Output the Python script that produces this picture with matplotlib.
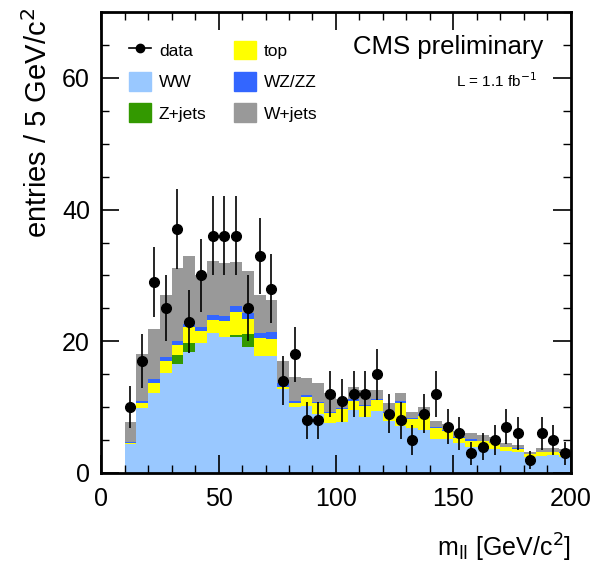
import numpy as np
import matplotlib
matplotlib.use('Agg')
import matplotlib.pyplot as plt
from matplotlib.patches import Patch
from matplotlib.lines import Line2D
from matplotlib.ticker import MultipleLocator

plt.rcParams['font.family'] = ['Liberation Sans', 'DejaVu Sans']

# bins of 5 GeV from 10 to 200
edges = np.arange(10, 201, 5)

# observed events per bin
data = [10, 17, 29, 25, 37, 23, 30, 36, 36, 36, 25, 33, 28, 14, 18, 8, 8, 12, 11, 12,
        12, 15, 9, 8, 5, 9, 12, 7, 6, 3, 4, 5, 7, 6, 2, 6, 5, 3]

# expected contributions per bin (stack order bottom -> top)
ww = [4.4, 9.8, 12.1, 15.2, 16.6, 18.3, 19.7, 21.2, 20.6, 20.6, 19.1, 17.8, 17.8, 12.8,
      10.0, 10.1, 9.0, 7.6, 7.8, 9.5, 8.5, 9.4, 7.9, 7.1, 6.9, 6.5, 5.1, 5.1, 4.5, 4.0,
      4.0, 3.7, 3.4, 3.2, 2.4, 2.6, 2.7, 2.5]
zjets = [0, 0, 0, 0, 1.3, 1.4, 0, 0, 0, 0.3, 2.0, 0, 0, 0, 0, 0, 0, 0, 0, 0,
         0, 0, 0, 0, 0, 0, 0, 0, 0, 0, 0, 0, 0, 0, 0, 0, 0, 0]
top = [0.1, 0.8, 1.6, 1.8, 1.5, 2.4, 1.8, 2.1, 2.5, 3.6, 2.3, 2.7, 2.5, 0.3, 0.6, 1.5,
       1.6, 1.5, 1.9, 1.5, 1.6, 1.7, 1.2, 3.6, 1.3, 2.2, 1.7, 1.3, 0.8, 0.9, 0.8, 0.8,
       0.5, 0.5, 0.5, 0.6, 0.5, 0.6]
wzzz = [0.2, 0.4, 0.5, 0.6, 0.6, 0.6, 0.7, 0.7, 0.8, 0.9, 0.9, 0.7, 1.1, 0.5, 0.3, 0.3,
        0.2, 0.2, 0.2, 0.2, 0.2, 0.2, 0.2, 0.2, 0.2, 0.2, 0.2, 0.2, 0.2, 0.2, 0.1, 0.1,
        0.1, 0.1, 0.0, 0.05, 0.05, 0.05]
wjets = [3.1, 7.0, 7.6, 9.4, 11.1, 10.3, 7.8, 8.2, 8.0, 6.7, 6.4, 5.8, 4.9, 3.4, 3.7,
         2.6, 2.8, 2.8, 1.3, 1.9, 2.3, 1.3, 1.3, 1.2, 0.9, 1.1, 0.9, 0.9, 0.9, 0.9, 0.9,
         0.9, 0.5, 0.4, 0.3, 0.55, 0.55, 0.55]

components = [
    ('WW', ww, '#99c8ff'),
    ('Z+jets', zjets, '#339900'),
    ('top', top, '#ffff00'),
    ('WZ/ZZ', wzzz, '#3366ff'),
    ('W+jets', wjets, '#999999'),
]

fig = plt.figure(figsize=(5.96, 5.67), dpi=100)
ax = fig.add_axes([0.1695, 0.1658, 0.958 - 0.1695, 0.9788 - 0.1658])

bottom = np.zeros(len(data))
for name, vals, col in components:
    vals = np.array(vals, dtype=float)
    ax.stairs(bottom + vals, edges, baseline=bottom, fill=True, color=col, lw=0)
    bottom = bottom + vals

centers = 0.5 * (edges[:-1] + edges[1:])
d = np.array(data, dtype=float)
ax.errorbar(centers, d, yerr=np.sqrt(d), xerr=2.0, fmt='o', color='black',
            ms=7, elinewidth=1.2, capsize=0, zorder=5)

ax.set_xlim(0, 200)
ax.set_ylim(0, 70)
ax.xaxis.set_major_locator(MultipleLocator(50))
ax.xaxis.set_minor_locator(MultipleLocator(10))
ax.yaxis.set_major_locator(MultipleLocator(20))
ax.yaxis.set_minor_locator(MultipleLocator(5))
ax.tick_params(which='both', direction='in', top=True, right=True, labelsize=18)
ax.tick_params(which='major', length=13, width=1.2)
ax.tick_params(which='minor', length=6, width=1.0)
ax.tick_params(axis='x', pad=10)
ax.tick_params(axis='y', pad=8)
for s in ax.spines.values():
    s.set_linewidth(2)

ax.set_ylabel('entries / 5 GeV/c$^2$', fontsize=21)
ax.yaxis.set_label_coords(-0.102, 0.76)
ax.set_xlabel('m$_{\\rm ll}$ [GeV/c$^2$]', fontsize=18, ha='right')
ax.xaxis.set_label_coords(1.0, -0.127)

handles = [Line2D([0], [0], color='black', marker='o', ms=6, lw=1.2)]
labels = ['data']
for name, vals, col in components:
    handles.append(Patch(facecolor=col, edgecolor=col))
    labels.append(name)
leg = ax.legend(handles, labels, ncol=2, loc='upper left', bbox_to_anchor=(0.027, 0.972),
                frameon=False, fontsize=12.5, handlelength=1.25, handleheight=1.3,
                labelspacing=0.72, columnspacing=1.6, handletextpad=0.45)

ax.text(0.94, 0.925, 'CMS preliminary', transform=ax.transAxes, ha='right', va='center',
        fontsize=18.5)
ax.text(0.928, 0.852, 'L = 1.1 fb$^{-1}$', transform=ax.transAxes, ha='right', va='center',
        fontsize=11)

fig.savefig('out.png', dpi=100)
